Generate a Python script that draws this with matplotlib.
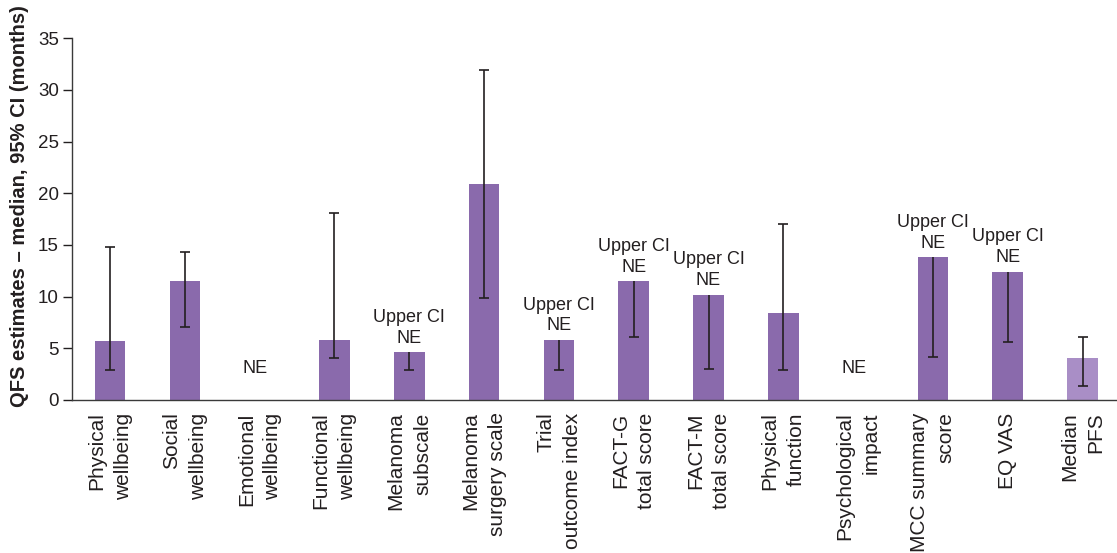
import numpy as np
import matplotlib
matplotlib.use('Agg')
import matplotlib.pyplot as plt

plt.rcParams['font.family'] = ['Liberation Sans', 'DejaVu Sans']

# QFS estimates per QoL domain, median with 95% CI (months); nan = not estimable
categories = ['Physical\nwellbeing', 'Social\nwellbeing', 'Emotional\nwellbeing',
              'Functional\nwellbeing', 'Melanoma\nsubscale', 'Melanoma\nsurgery scale',
              'Trial\noutcome index', 'FACT-G\ntotal score', 'FACT-M\ntotal score',
              'Physical\nfunction', 'Psychological\nimpact', 'MCC summary\nscore',
              'EQ VAS', 'Median\nPFS']
median = [5.7, 11.5, np.nan, 5.8, 4.6, 20.9, 5.8, 11.5, 10.2, 8.4, np.nan, 13.8, 12.4, 4.1]
ci_low = [2.9, 7.1, np.nan, 4.1, 2.9, 9.9, 2.9, 6.1, 3.0, 2.9, np.nan, 4.2, 5.6, 1.4]
ci_high = [14.8, 14.3, np.nan, 18.1, np.nan, 31.9, np.nan, np.nan, np.nan, 17.0, np.nan,
           np.nan, np.nan, 6.1]
ne_text_y = 3.0

bar_col = '#8a6aac'
pfs_col = '#a98ec6'
ink = '#231f20'

fig = plt.figure(figsize=(11.17, 5.53), dpi=100)
ax = fig.add_subplot(111)
fig.subplots_adjust(left=0.0645, right=1.0, bottom=0.2767, top=0.931)

x = np.arange(len(categories))
colors = [bar_col] * (len(categories) - 1) + [pfs_col]
ax.bar(x, np.nan_to_num(median), width=0.41, color=colors, zorder=2)

for xi, m, lo, hi in zip(x, median, ci_low, ci_high):
    if np.isnan(m):
        ax.text(xi - 0.06, ne_text_y, 'NE', ha='center', va='center', fontsize=13, color=ink)
        continue
    top = m if np.isnan(hi) else hi
    ax.vlines(xi, lo, top, color=ink, lw=1.2, zorder=3)
    ax.plot([xi], [lo], marker='_', ms=6.5, mew=1.2, color=ink, zorder=3)
    if np.isnan(hi):
        ax.annotate('Upper CI\nNE', (xi, m), xytext=(0, 4), textcoords='offset points',
                    ha='center', va='bottom', fontsize=13, color=ink, linespacing=1.3)
    else:
        ax.plot([xi], [hi], marker='_', ms=6.5, mew=1.2, color=ink, zorder=3)

ax.set_xlim(-0.508, 13.46)
ax.set_ylim(0, 35)
ax.set_yticks(np.arange(0, 36, 5))
ax.set_xticks(x)
ax.set_xticklabels(categories, rotation=90, ha='center', va='top',
                   multialignment='right', fontsize=15, color=ink, linespacing=1.5)
ax.tick_params(axis='x', length=0, pad=9)
ax.tick_params(axis='y', length=6.5, width=1, pad=3, labelsize=13.5, colors=ink)

for s in ['top', 'right']:
    ax.spines[s].set_visible(False)
for s in ['left', 'bottom']:
    ax.spines[s].set_color('#3a3a3a')
    ax.spines[s].set_linewidth(1.0)

ax.set_ylabel('QFS estimates – median, 95% CI (months)', fontsize=14.5,
              fontweight='bold', color=ink)
ax.yaxis.set_label_coords(-0.041, 0.537)

fig.savefig('out.png', dpi=100)
